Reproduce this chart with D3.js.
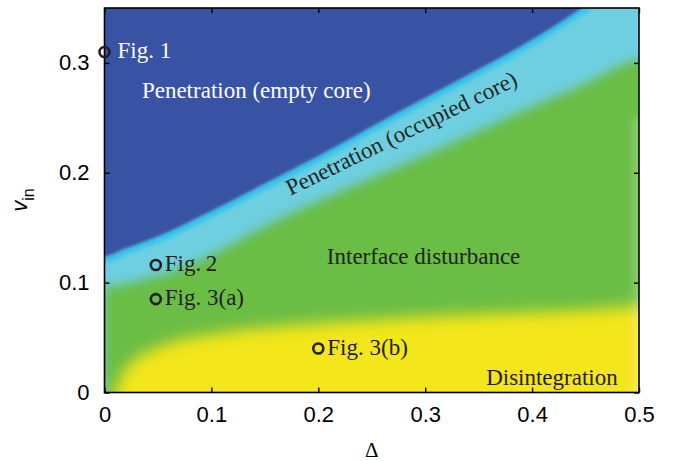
<!DOCTYPE html>
<html><head><meta charset="utf-8">
<script src="https://cdn.jsdelivr.net/npm/d3@7"></script>
<style>body{margin:0;background:#fff}</style>
</head><body>
<svg id="c" width="692" height="461"></svg>
<script>
// ---- data ----
const deltas = [0, 0.02, 0.05, 0.1, 0.15, 0.2, 0.25, 0.3, 0.35, 0.4, 0.45, 0.5];
const emptyCoreEdge = [0.124, 0.131, 0.142, 0.165, 0.19, 0.215, 0.242, 0.268, 0.294, 0.321, 0.352, 0.385];
const occupiedCoreEdge = [0.096, 0.099, 0.106, 0.125, 0.151, 0.174, 0.195, 0.216, 0.238, 0.26, 0.281, 0.302];
const disintegrationEdge = [-0.012, 0.022, 0.041, 0.053, 0.059, 0.063, 0.066, 0.069, 0.071, 0.073, 0.075, 0.078];
const xTicks = [0, 0.1, 0.2, 0.3, 0.4, 0.5];
const yTicks = [0, 0.1, 0.2, 0.3];
const markerLabels = ["Fig. 1", "Fig.\u20092", "Fig. 3(a)", "Fig. 3(b)"];
const markerDelta = [0, 0.048, 0.048, 0.2];
const markerV = [0.31, 0.116, 0.085, 0.04];
const regionLabels = ["Penetration (empty core)", "Penetration (occupied core)", "Interface disturbance", "Disintegration"];
const regionDelta = [0.035, 0.174, 0.208, 0.357];
const regionV = [0.268, 0.179, 0.117, 0.007];

// ---- layout ----
const svg = d3.select("#c");
const L = 104.5, R = 639, T = 8, B = 392.5;
const x = d3.scaleLinear().domain([0, 0.5]).range([L, R]);
const y = d3.scaleLinear().domain([0, 0.35]).range([B, T]);

const C = {blue: "#3953a4", cyan: "#6dcfe0", bright: "#27c3f1", green: "#6bbd45", yellow: "#f3e61a"};

const defs = svg.append("defs");
defs.append("clipPath").attr("id", "plotclip").append("rect")
  .attr("x", L).attr("y", T).attr("width", R - L).attr("height", B - T);
function blur(id, s) {
  defs.append("filter").attr("id", id).attr("filterUnits", "userSpaceOnUse")
    .attr("x", 0).attr("y", -200).attr("width", 900).attr("height", 900)
    .append("feGaussianBlur").attr("stdDeviation", s);
}
blur("b1", 1.4); blur("b2", 2.2); blur("b4", 4); blur("b5", 5.5); blur("b7", 7.5);
function hgrad(id, color, o0, o1) {
  const g = defs.append("linearGradient").attr("id", id).attr("x1", 0).attr("x2", 1).attr("y1", 0).attr("y2", 0);
  g.append("stop").attr("offset", 0).attr("stop-color", color).attr("stop-opacity", o0);
  g.append("stop").attr("offset", 1).attr("stop-color", color).attr("stop-opacity", o1);
}
hgrad("fadeR", "#fff", 0, 0.4);
hgrad("fadeL", C.cyan, 0.5, 0);

function pts(edge) {
  const p = deltas.map((d, i) => ({d, v: edge[i]}));
  return [{d: -0.06, v: edge[0]}, ...p, {d: 0.56, v: edge[edge.length - 1]}];
}
const areaUp = d3.area().curve(d3.curveMonotoneX)
  .x(d => x(d.d)).y0(d => y(d.v)).y1(y(0.6));
const line = d3.line().curve(d3.curveMonotoneX).x(d => x(d.d)).y(d => y(d.v));

const field = svg.append("g").attr("clip-path", "url(#plotclip)");
field.append("rect").attr("x", L - 20).attr("y", T - 20).attr("width", R - L + 40).attr("height", B - T + 40)
  .attr("fill", C.yellow);
field.append("path").attr("d", areaUp(pts(disintegrationEdge))).attr("fill", C.green).attr("filter", "url(#b7)");
field.append("path").attr("d", areaUp(pts(occupiedCoreEdge))).attr("fill", C.cyan).attr("filter", "url(#b5)");
field.append("path").attr("d", line(pts(emptyCoreEdge))).attr("fill", "none").attr("stroke", C.bright)
  .attr("stroke-width", 5).attr("transform", "translate(0,3)").attr("filter", "url(#b2)");
field.append("path").attr("d", areaUp(pts(emptyCoreEdge))).attr("fill", C.blue).attr("filter", "url(#b1)");
field.append("rect").attr("x", R - 10).attr("y", y(0.25)).attr("width", 14).attr("height", B - y(0.25) + 20)
  .attr("fill", "url(#fadeR)").attr("filter", "url(#b4)");
field.append("rect").attr("x", L).attr("y", y(0.1)).attr("width", 7).attr("height", B - y(0.1))
  .attr("fill", "url(#fadeL)").attr("filter", "url(#b2)");

// ---- axes ----
const tickFont = "'Liberation Sans', Arial, Helvetica, sans-serif";
const serif = "'Liberation Serif', 'Times New Roman', Times, serif";
function styleAxis(g) {
  g.select(".domain").remove();
  g.selectAll(".tick line").attr("stroke", "#000").attr("stroke-width", 1.4);
  g.selectAll(".tick text").attr("fill", "#000").attr("font-family", tickFont).attr("font-size", 22);
}
svg.append("g").attr("transform", `translate(0,${B})`)
  .call(d3.axisBottom(x).tickValues(xTicks).tickFormat(d3.format("")).tickSize(-5).tickPadding(14)).call(styleAxis);
svg.append("g").attr("transform", `translate(0,${T})`)
  .call(d3.axisTop(x).tickValues(xTicks).tickFormat("").tickSize(-5)).call(styleAxis);
svg.append("g").attr("transform", `translate(${L},0)`)
  .call(d3.axisLeft(y).tickValues(yTicks).tickFormat(d3.format("")).tickSize(-5).tickPadding(15)).call(styleAxis);
svg.append("g").attr("transform", `translate(${R},0)`)
  .call(d3.axisRight(y).tickValues(yTicks).tickFormat("").tickSize(-5)).call(styleAxis);
svg.append("rect").attr("x", L).attr("y", T).attr("width", R - L).attr("height", B - T)
  .attr("fill", "none").attr("stroke", "#000").attr("stroke-width", 1.6);

// axis titles
svg.append("text").attr("x", (L + R) / 2).attr("y", 457).attr("text-anchor", "middle")
  .attr("font-family", serif).attr("font-size", 21).attr("fill", "#000").text("\u0394");
const yl = svg.append("text").attr("transform", "translate(27,200) rotate(-90)").attr("text-anchor", "middle")
  .attr("font-family", tickFont).attr("font-size", 22).attr("fill", "#000");
yl.append("tspan").attr("font-style", "italic").text("v");
yl.append("tspan").attr("font-size", 16).attr("dy", 7).text("in");

// ---- markers ----
const labelDx = [13, 9, 9, 9];
const labelFill = ["#fff", "#231f20", "#231f20", "#231f20"];
markerLabels.forEach((lab, i) => {
  const cx = x(markerDelta[i]), cy = y(markerV[i]);
  svg.append("circle").attr("cx", cx).attr("cy", cy).attr("r", 5)
    .attr("fill", "none").attr("stroke", "#231f20").attr("stroke-width", 2.6);
  svg.append("text").attr("x", cx + labelDx[i]).attr("y", cy + 6)
    .attr("font-family", serif).attr("font-size", 23).attr("fill", labelFill[i]).text(lab);
});

// ---- region labels ----
const regionFill = ["#fff", "#231f20", "#231f20", "#231f20"];
const regionRot = [0, -26, 0, 0];
regionLabels.forEach((lab, i) => {
  const px = x(regionDelta[i]), py = y(regionV[i]);
  svg.append("text").attr("transform", `translate(${px},${py}) rotate(${regionRot[i]})`)
    .attr("font-family", serif).attr("font-size", 23).attr("fill", regionFill[i]).text(lab);
});
</script>
</body></html>
